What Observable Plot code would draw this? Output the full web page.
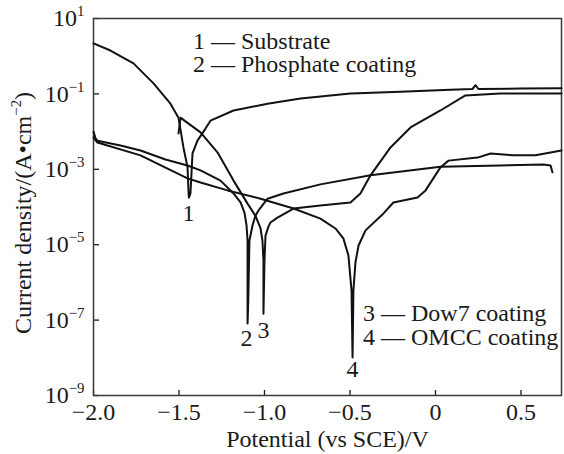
<!DOCTYPE html>
<html>
<head>
<meta charset="utf-8">
<script src="https://cdn.jsdelivr.net/npm/d3@7"></script>
<script src="https://cdn.jsdelivr.net/npm/@observablehq/plot@0.6"></script>
<style>
  html, body { margin: 0; padding: 0; background: #fff; }
  #chart svg { display: block; }
</style>
</head>
<body>
<div id="chart"></div>
<script>
// ---- Data (potential in V vs SCE, current density as log10(A·cm^-2)) ----
const seriesNames = ["Substrate", "Phosphate coating", "Dow7 coating", "OMCC coating"];

const potential1 = [-2.000,-1.901,-1.766,-1.649,-1.550,-1.503,-1.474,-1.450,-1.444,-1.442,-1.433,-1.421,-1.392,-1.345,-1.316,-1.181,-0.982,-0.789,-0.497,-0.205,0.088,0.216,0.234,0.251,0.497,0.737];
const logCurrent1 = [0.34,0.15,-0.19,-0.72,-1.26,-1.63,-2.42,-2.95,-3.64,-3.75,-3.64,-2.58,-2.24,-1.92,-1.71,-1.44,-1.26,-1.12,-0.99,-0.94,-0.89,-0.87,-0.77,-0.87,-0.86,-0.85];

const potential2 = [-2.000,-1.988,-1.977,-1.842,-1.725,-1.579,-1.450,-1.374,-1.257,-1.181,-1.140,-1.117,-1.105,-1.099,-1.099,-1.095,-1.088,-1.070,-1.053,-1.035,-0.982,-0.889,-0.673,-0.380,0.029,0.380,0.632,0.673,0.684];
const logCurrent2 = [-2.00,-2.18,-2.24,-2.37,-2.50,-2.74,-2.90,-3.03,-3.30,-3.64,-3.88,-4.15,-4.49,-4.89,-7.09,-6.50,-4.89,-4.49,-4.23,-4.09,-3.78,-3.64,-3.40,-3.16,-2.93,-2.90,-2.87,-2.90,-3.08];

const potential3 = [-1.503,-1.497,-1.491,-1.462,-1.374,-1.275,-1.181,-1.099,-1.053,-1.023,-1.012,-1.006,-1.006,-1.000,-0.994,-0.977,-0.965,-0.924,-0.830,-0.673,-0.497,-0.439,-0.380,-0.263,-0.146,0.029,0.175,0.380,0.737];
const logCurrent3 = [-2.05,-1.84,-1.63,-1.73,-2.02,-2.55,-3.30,-3.91,-4.23,-4.57,-4.89,-5.42,-6.83,-5.42,-4.76,-4.52,-4.41,-4.28,-4.04,-3.96,-3.88,-3.64,-3.16,-2.42,-1.89,-1.44,-1.04,-0.99,-0.99];

const potential4 = [-2.000,-1.977,-1.725,-1.567,-1.450,-1.374,-1.216,-1.023,-0.830,-0.673,-0.585,-0.538,-0.509,-0.491,-0.485,-0.480,-0.468,-0.450,-0.409,-0.304,-0.246,-0.105,-0.058,0.029,0.076,0.246,0.322,0.456,0.585,0.737];
const logCurrent4 = [-2.16,-2.29,-2.63,-2.98,-3.24,-3.35,-3.56,-3.78,-4.04,-4.31,-4.57,-4.84,-5.29,-6.22,-7.99,-6.22,-5.47,-5.02,-4.62,-4.17,-3.88,-3.75,-3.56,-2.95,-2.77,-2.69,-2.58,-2.63,-2.63,-2.50];

const xTicks = [-2, -1.5, -1, -0.5, 0, 0.5];
const xTickLabels = ["−2.0", "−1.5", "−1.0", "−0.5", "0", "0.5"];
const yTicks = [1, -1, -3, -5, -7, -9];
const yTickExponents = ["1", "−1", "−3", "−5", "−7", "−9"];

const xTitle = "Potential (vs SCE)/V";
const yTitle = "Current density/(A•cm^{−2})";

// curve number labels
const curveLabelText = ["1", "2", "3", "4"];
const curveLabelX = [-1.444, -1.105, -1.006, -0.485];
const curveLabelY = [-4.17, -7.49, -7.28, -8.31];

// legend entries
const legendText = ["1 — Substrate", "2 — Phosphate coating", "3 — Dow7 coating", "4 — OMCC coating"];
const legendX = [-1.418, -1.418, -0.424, -0.424];
const legendY = [0.39, -0.22, -6.82, -7.46];

// ---- Build tables ----
const curves = [
  [potential1, logCurrent1],
  [potential2, logCurrent2],
  [potential3, logCurrent3],
  [potential4, logCurrent4]
];
const rows = [];
curves.forEach(([ex, ly], k) => ex.forEach((e, i) => rows.push({series: seriesNames[k], E: e, logI: ly[i]})));
const curveLabels = curveLabelText.map((t, i) => ({t, x: curveLabelX[i], y: curveLabelY[i]}));
const legend = legendText.map((t, i) => ({t, x: legendX[i], y: legendY[i]}));

const FS = 24;
const chart = Plot.plot({
  width: 564,
  height: 454,
  marginLeft: 93,
  marginRight: 3,
  marginTop: 18,
  marginBottom: 59,
  style: {fontFamily: '"Liberation Serif", "Times New Roman", serif', fontSize: FS + "px", background: "#fff", color: "#1a1a1a", overflow: "visible"},
  x: {domain: [-2, 0.737], label: null},
  y: {domain: [-9, 1], label: null},
  marks: [
    Plot.axisX({ticks: xTicks, tickSize: -5, tickFormat: () => "", strokeWidth: 1.3}),
    Plot.axisX({ticks: xTicks, tickSize: 0, tickPadding: 7, fontSize: FS,
      tickFormat: d => xTickLabels[xTicks.indexOf(d)]}),
    Plot.axisY({ticks: yTicks, tickSize: -6, tickFormat: () => "", strokeWidth: 1.3}),
    Plot.axisY({ticks: yTicks, tickSize: 0, tickPadding: 9, fontSize: FS,
      tickFormat: d => `10^{${yTickExponents[yTicks.indexOf(d)]}}`}),
    Plot.frame({stroke: "#3a3a3a", strokeWidth: 1.5}),
    Plot.line(rows, {x: "E", y: "logI", z: "series", stroke: "#111", strokeWidth: 2, strokeLinejoin: "round"}),
    Plot.text(curveLabels, {x: "x", y: "y", text: "t", fontSize: FS, fill: "#1a1a1a"}),
    Plot.text(legend, {x: "x", y: "y", text: "t", fontSize: FS, textAnchor: "start", fill: "#1a1a1a"}),
    Plot.text([yTitle], {text: d => d, frameAnchor: "left", textAnchor: "middle", lineAnchor: "middle", dx: -70, dy: 6, rotate: -90, fontSize: FS, fill: "#1a1a1a"}),
    Plot.text([xTitle], {text: d => d, frameAnchor: "bottom", textAnchor: "middle", lineAnchor: "middle", dy: 44, fontSize: FS, fill: "#1a1a1a"})
  ]
});

document.getElementById("chart").appendChild(chart);

// superscripts: convert ^{...} into tspans
function supify(svg) {
  svg.querySelectorAll("text").forEach(t => {
    const targets = t.querySelectorAll("tspan").length ? [...t.querySelectorAll("tspan")] : [t];
    targets.forEach(n => {
      const s = n.textContent;
      if (!s.includes("^{")) return;
      const fs = parseFloat(getComputedStyle(n).fontSize) || FS;
      const shift = 0.42 * fs;
      const parts = s.split(/\^\{([^}]*)\}/);
      n.textContent = "";
      const ns = "http://www.w3.org/2000/svg";
      parts.forEach((p, i) => {
        if (i % 2 === 1) {
          const sp = document.createElementNS(ns, "tspan");
          sp.setAttribute("dy", (-shift).toFixed(2));
          sp.setAttribute("font-size", (0.62 * fs).toFixed(1));
          sp.textContent = p;
          n.appendChild(sp);
        } else if (p.length) {
          if (i > 0) {
            const sp = document.createElementNS(ns, "tspan");
            sp.setAttribute("dy", shift.toFixed(2));
            sp.textContent = p;
            n.appendChild(sp);
          } else {
            n.appendChild(document.createTextNode(p));
          }
        }
      });
    });
  });
}
supify(chart);
</script>
</body>
</html>
